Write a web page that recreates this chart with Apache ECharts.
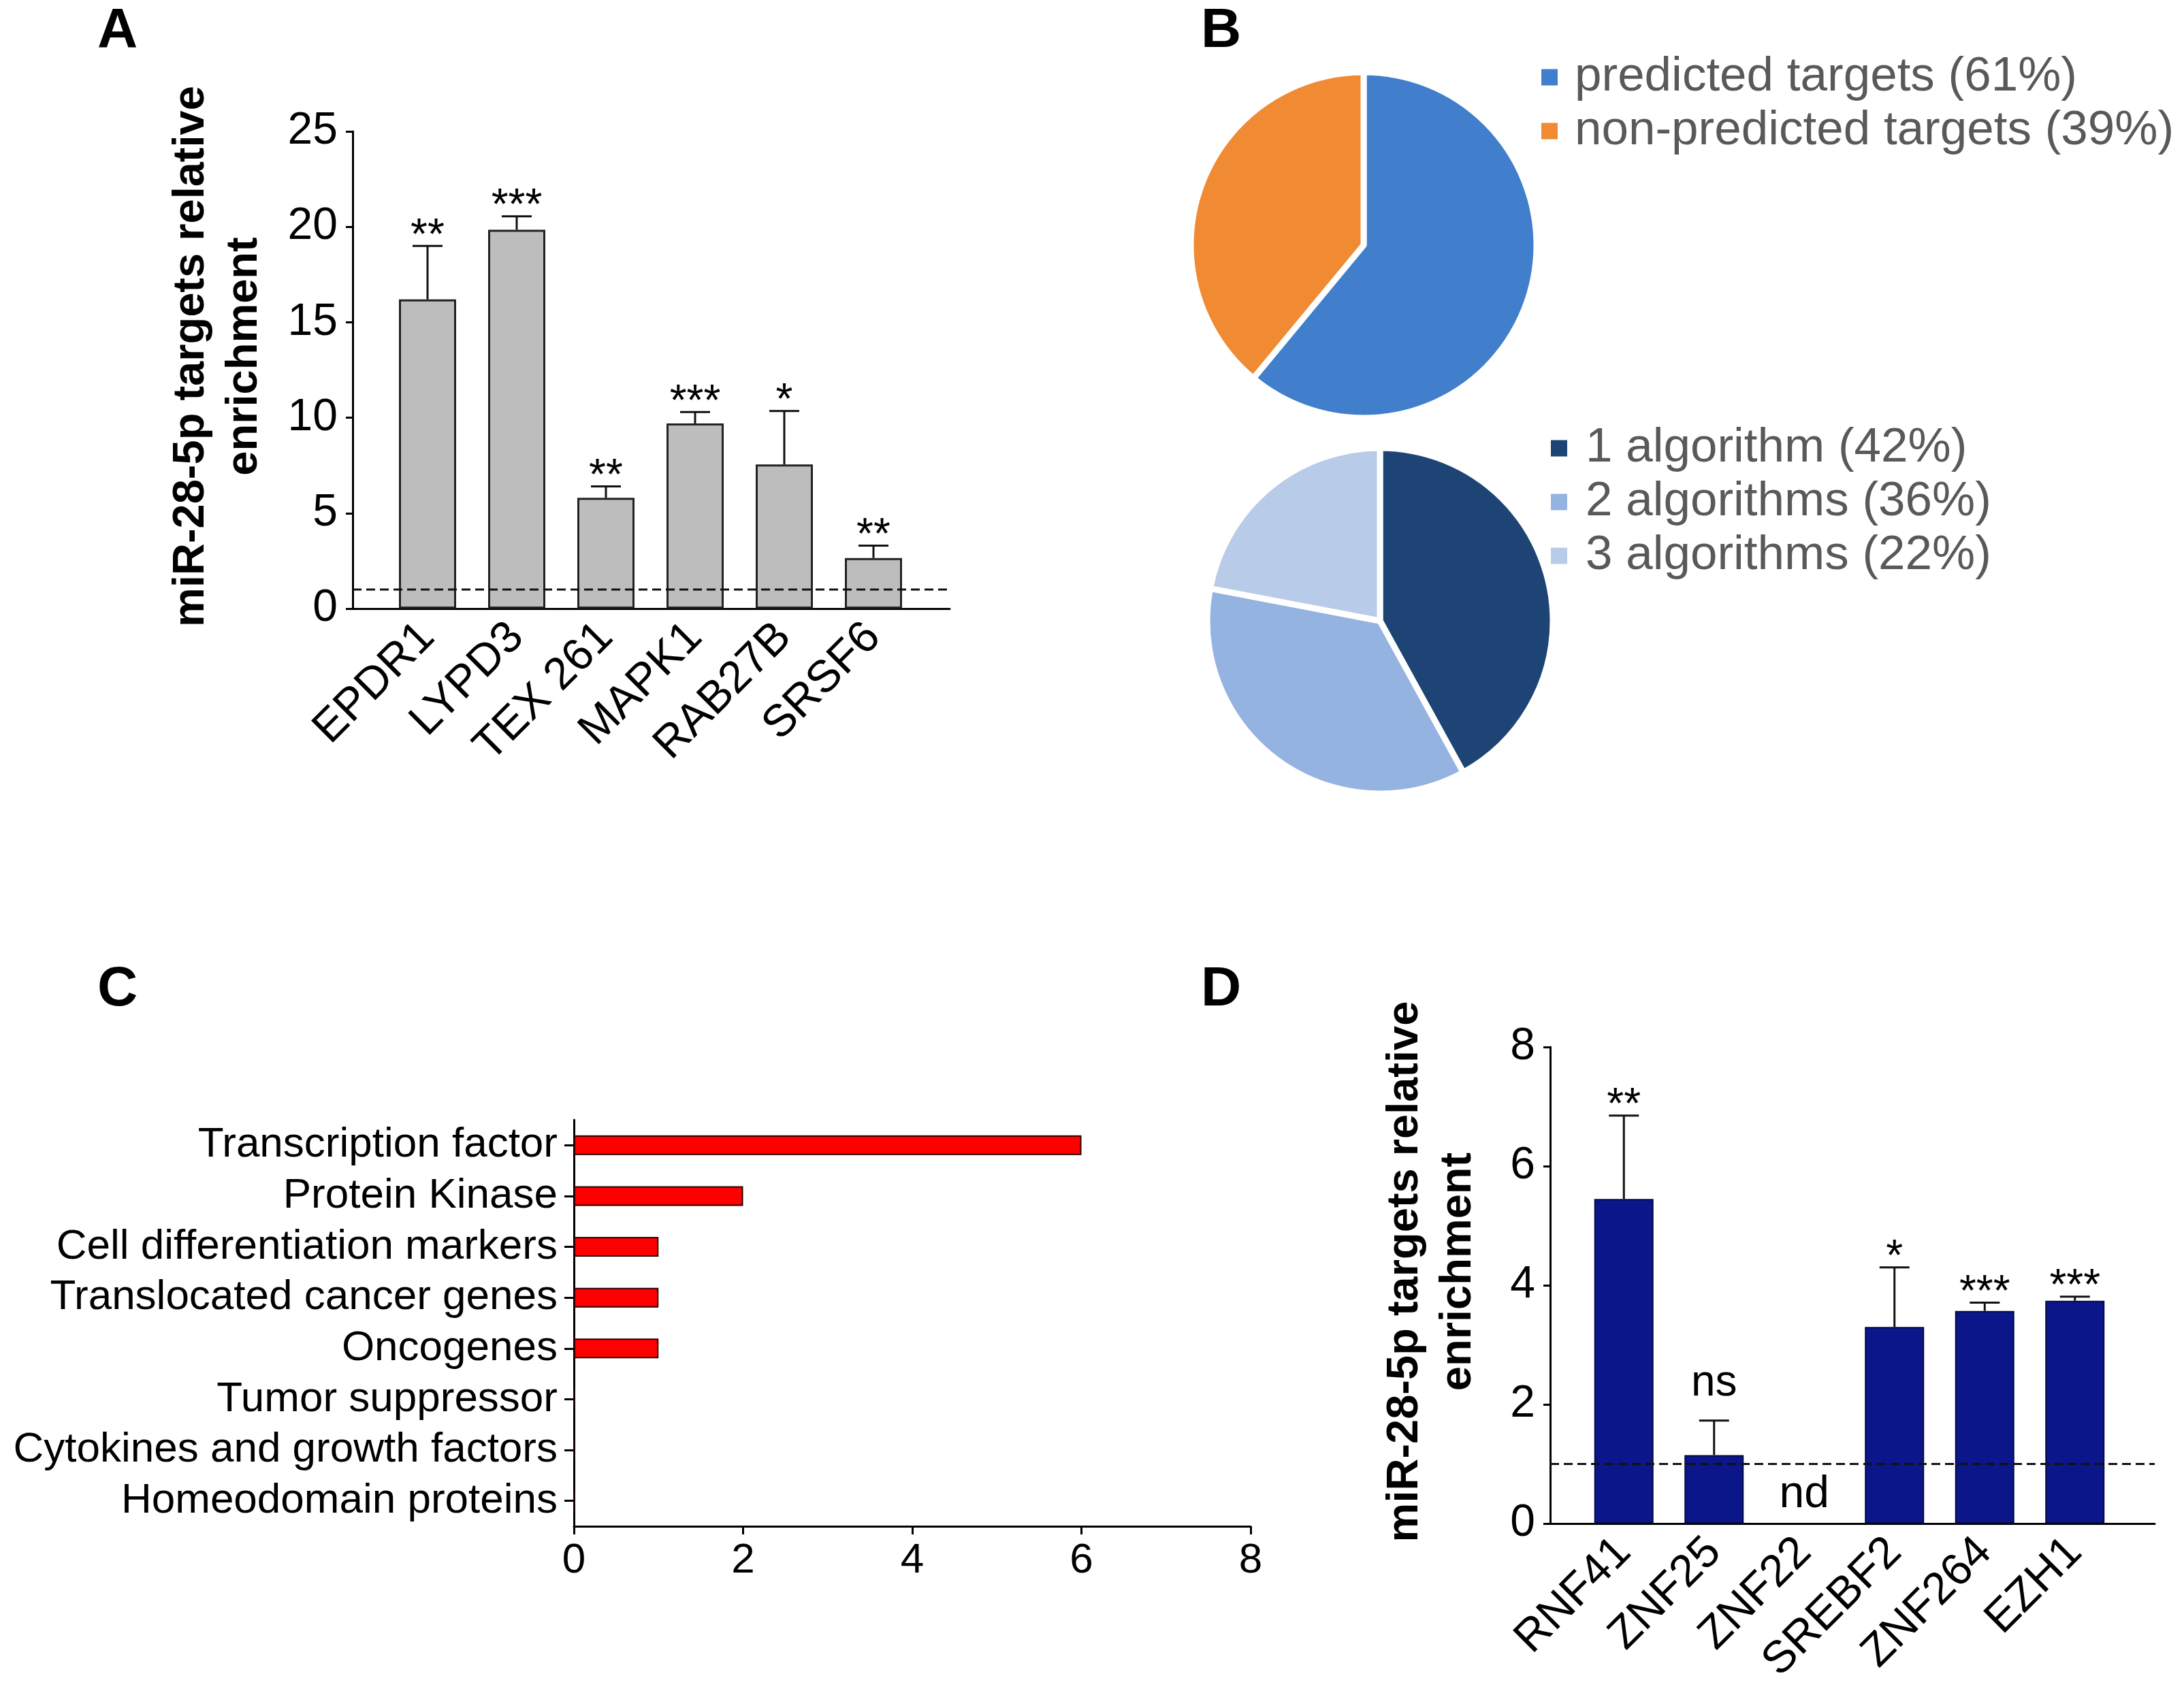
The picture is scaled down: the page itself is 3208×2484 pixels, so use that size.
<!DOCTYPE html>
<html>
<head>
<meta charset="utf-8">
<script src="https://cdn.jsdelivr.net/npm/echarts@6/dist/echarts.min.js"></script>
<style>
    html, body { margin: 0; padding: 0; background: #fff; }
    #chart { width: 3208px; height: 2484px; }
</style>
</head>
<body>
<div id="chart"></div>
<script>
// panel A: miR-28-5p targets relative enrichment
const genesA = ['EPDR1', 'LYPD3', 'TEX 261', 'MAPK1', 'RAB27B', 'SRSF6'];
const meanA = [16.2, 19.85, 5.8, 9.7, 7.55, 2.65];
const errA = [2.8, 0.7, 0.6, 0.6, 2.8, 0.65];
const sigA = ['**', '***', '**', '***', '*', '**'];
const ticksA = { min: 0, max: 25, step: 5 };

// panel B: pies
const namesTop = ['predicted targets (61%)', 'non-predicted targets (39%)'];
const valuesTop = [61, 39];
const colorsTop = ['#417ecb', '#f08a33'];
const namesBottom = ['1 algorithm (42%)', '2 algorithms (36%)', '3 algorithms (22%)'];
const valuesBottom = [42, 36, 22];
const colorsBottom = ['#1d4474', '#94b3e0', '#b8cbe8'];

// panel C: categories
const catsC = ['Transcription factor', 'Protein Kinase', 'Cell differentiation markers', 'Translocated cancer genes',
    'Oncogenes', 'Tumor suppressor', 'Cytokines and growth factors', 'Homeodomain proteins'];
const countsC = [6, 2, 1, 1, 1, 0, 0, 0];
const ticksC = { min: 0, max: 8, step: 2 };

// panel D
const genesD = ['RNF41', 'ZNF25', 'ZNF22', 'SREBF2', 'ZNF264', 'EZH1'];
const meanD = [5.45, 1.15, null, 3.3, 3.57, 3.74];
const errD = [1.4, 0.58, null, 1.0, 0.14, 0.07];
const sigD = ['**', 'ns', 'nd', '*', '***', '***'];
const ticksD = { min: 0, max: 8, step: 2 };

const refLevel = 1; // dashed line, enrichment = 1

const FONT = '"Liberation Sans", Arial, sans-serif';
const yTitle = 'miR-28-5p targets relative\nenrichment';

const chart = echarts.init(document.getElementById('chart'), null, { renderer: 'canvas' });

// error bar + significance text
const errorBars = (sig) => function (params, api) {
    const i = params.dataIndex;
    const m = api.value(1);
    const e = api.value(2);
    const children = [];
    const txt = sig[i];
    if (m === null || m === undefined || isNaN(m)) {
        const p0 = api.coord([i, 0]);
        children.push({ type: 'text', style: { text: txt, x: p0[0], y: p0[1] - 42, align: 'center', verticalAlign: 'middle', font: '66px ' + FONT, fill: '#000' } });
        return { type: 'group', children: children };
    }
    const top = api.coord([i, m + e]);
    const base = api.coord([i, m]);
    const lineStyle = { stroke: '#111', lineWidth: 3 };
    children.push({ type: 'line', shape: { x1: base[0], y1: base[1], x2: top[0], y2: top[1] }, style: lineStyle });
    children.push({ type: 'line', shape: { x1: top[0] - 22, y1: top[1], x2: top[0] + 22, y2: top[1] }, style: lineStyle });
    const off = txt.charAt(0) === '*' ? 13 : 54;
    children.push({ type: 'text', style: { text: txt, x: top[0], y: top[1] - off, align: 'center', verticalAlign: 'middle', font: '64px ' + FONT, fill: '#000' } });
    return { type: 'group', children: children };
};

const frameX = (gi) => ({
    type: 'value', gridIndex: gi, min: 0, max: 1,
    axisLine: { show: true, lineStyle: { color: '#000', width: 3 } },
    axisTick: { show: false }, axisLabel: { show: false }, splitLine: { show: false }
});
const frameY = (gi, t, gap) => ({
    type: 'value', gridIndex: gi, min: t.min, max: t.max, interval: t.step,
    axisLine: { show: true, lineStyle: { color: '#000', width: 3 } },
    axisTick: { show: true, length: 10, lineStyle: { color: '#000', width: 3 } },
    axisLabel: { fontSize: 66, color: '#000', margin: 22, fontFamily: FONT },
    splitLine: { show: false },
    name: yTitle, nameLocation: 'middle', nameGap: gap,
    nameTextStyle: { fontSize: 65, fontWeight: 'bold', color: '#000', lineHeight: 78, fontFamily: FONT, padding: [0, 0, 0, 40] }
});
const dataX = (gi, names) => ({
    type: 'category', gridIndex: gi, data: names,
    axisLine: { show: false }, axisTick: { show: false },
    axisLabel: { rotate: 45, interval: 0, fontSize: 66, color: '#000', margin: 32, fontFamily: FONT }
});
const dataY = (gi, t) => ({ type: 'value', gridIndex: gi, min: t.min, max: t.max, show: false });

const option = {
    backgroundColor: '#fff',
    animation: false,
    textStyle: { fontFamily: FONT },
    title: [
        { text: 'A', left: 143, top: 5 },
        { text: 'B', left: 1764, top: 5 },
        { text: 'C', left: 143, top: 1413 },
        { text: 'D', left: 1764, top: 1413 }
    ].map(t => Object.assign(t, { padding: 0, textStyle: { fontSize: 82, fontWeight: 'bold', color: '#000', lineHeight: 82, fontFamily: FONT } })),
    legend: [
        {
            data: namesTop, left: 2262, top: 78, orient: 'vertical', padding: 0,
            itemWidth: 26, itemHeight: 26, itemGap: 8, icon: 'rect', selectedMode: false,
            textStyle: { fontSize: 71, color: '#595959', lineHeight: 58, padding: [0, 0, 0, 19], fontFamily: FONT }
        },
        {
            data: namesBottom, left: 2276, top: 623, orient: 'vertical', padding: 0,
            itemWidth: 26, itemHeight: 26, itemGap: 8, icon: 'rect', selectedMode: false,
            textStyle: { fontSize: 71, color: '#595959', lineHeight: 58, padding: [0, 0, 0, 21], fontFamily: FONT }
        }
    ],
    grid: [
        { left: 518, top: 193, width: 877, height: 701 },     // A frame
        { left: 562.5, top: 193, width: 786, height: 701 },   // A bars
        { left: 843, top: 1645, width: 994, height: 597 },    // C
        { left: 2277, top: 1538, width: 888, height: 700 },   // D frame
        { left: 2319, top: 1538, width: 795, height: 700 }    // D bars
    ],
    xAxis: [
        frameX(0),
        dataX(1, genesA),
        {
            type: 'value', gridIndex: 2, min: ticksC.min, max: ticksC.max, interval: ticksC.step,
            axisLine: { show: true, lineStyle: { color: '#000', width: 3 } },
            axisTick: { show: true, length: 12, lineStyle: { color: '#000', width: 3 } },
            axisLabel: { fontSize: 62, color: '#000', margin: 20, fontFamily: FONT },
            splitLine: { show: false }
        },
        frameX(3),
        dataX(4, genesD)
    ],
    yAxis: [
        frameY(0, ticksA, 120),
        dataY(1, ticksA),
        {
            type: 'category', gridIndex: 2, data: catsC, inverse: true,
            axisLine: { show: true, lineStyle: { color: '#000', width: 3 } },
            axisTick: { show: true, alignWithLabel: true, length: 14, lineStyle: { color: '#000', width: 3 } },
            axisLabel: { interval: 0, fontSize: 62, color: '#000', margin: 24, fontFamily: FONT }
        },
        frameY(3, ticksD, 96),
        dataY(4, ticksD)
    ],
    series: [
        {
            type: 'bar', xAxisIndex: 1, yAxisIndex: 1, data: meanA, barWidth: 84,
            itemStyle: { color: '#bdbdbd', borderColor: '#222', borderWidth: 3 }, silent: true
        },
        {
            type: 'custom', xAxisIndex: 1, yAxisIndex: 1, z: 5, silent: true,
            data: genesA.map((g, i) => [i, meanA[i], errA[i]]),
            renderItem: errorBars(sigA)
        },
        {
            type: 'line', xAxisIndex: 0, yAxisIndex: 0, z: 6, symbol: 'none', silent: true,
            data: [[0, refLevel], [1, refLevel]],
            lineStyle: { color: '#111', width: 3, type: [13, 7] }
        },
        {
            type: 'bar', xAxisIndex: 2, yAxisIndex: 2, data: countsC, barWidth: 29,
            itemStyle: { color: '#ff0000', borderColor: '#2a0000', borderWidth: 2 }, silent: true
        },
        {
            type: 'bar', xAxisIndex: 4, yAxisIndex: 4, data: meanD, barWidth: 87,
            itemStyle: { color: '#0b168a', borderColor: '#050a40', borderWidth: 2 }, silent: true
        },
        {
            type: 'custom', xAxisIndex: 4, yAxisIndex: 4, z: 5, silent: true,
            data: genesD.map((g, i) => [i, meanD[i], errD[i]]),
            renderItem: errorBars(sigD)
        },
        {
            type: 'line', xAxisIndex: 3, yAxisIndex: 3, z: 6, symbol: 'none', silent: true,
            data: [[0, refLevel], [1, refLevel]],
            lineStyle: { color: '#111', width: 3, type: [13, 7] }
        },
        {
            type: 'pie', center: [2003, 360], radius: 254, startAngle: 90, clockwise: true, silent: true,
            label: { show: false }, labelLine: { show: false },
            itemStyle: { borderColor: '#fff', borderWidth: 9 },
            data: namesTop.map((n, i) => ({ name: n, value: valuesTop[i], itemStyle: { color: colorsTop[i] } }))
        },
        {
            type: 'pie', center: [2027, 912], radius: 254, startAngle: 90, clockwise: true, silent: true,
            label: { show: false }, labelLine: { show: false },
            itemStyle: { borderColor: '#fff', borderWidth: 9 },
            data: namesBottom.map((n, i) => ({ name: n, value: valuesBottom[i], itemStyle: { color: colorsBottom[i] } }))
        }
    ]
};

chart.setOption(option);
</script>
</body>
</html>
